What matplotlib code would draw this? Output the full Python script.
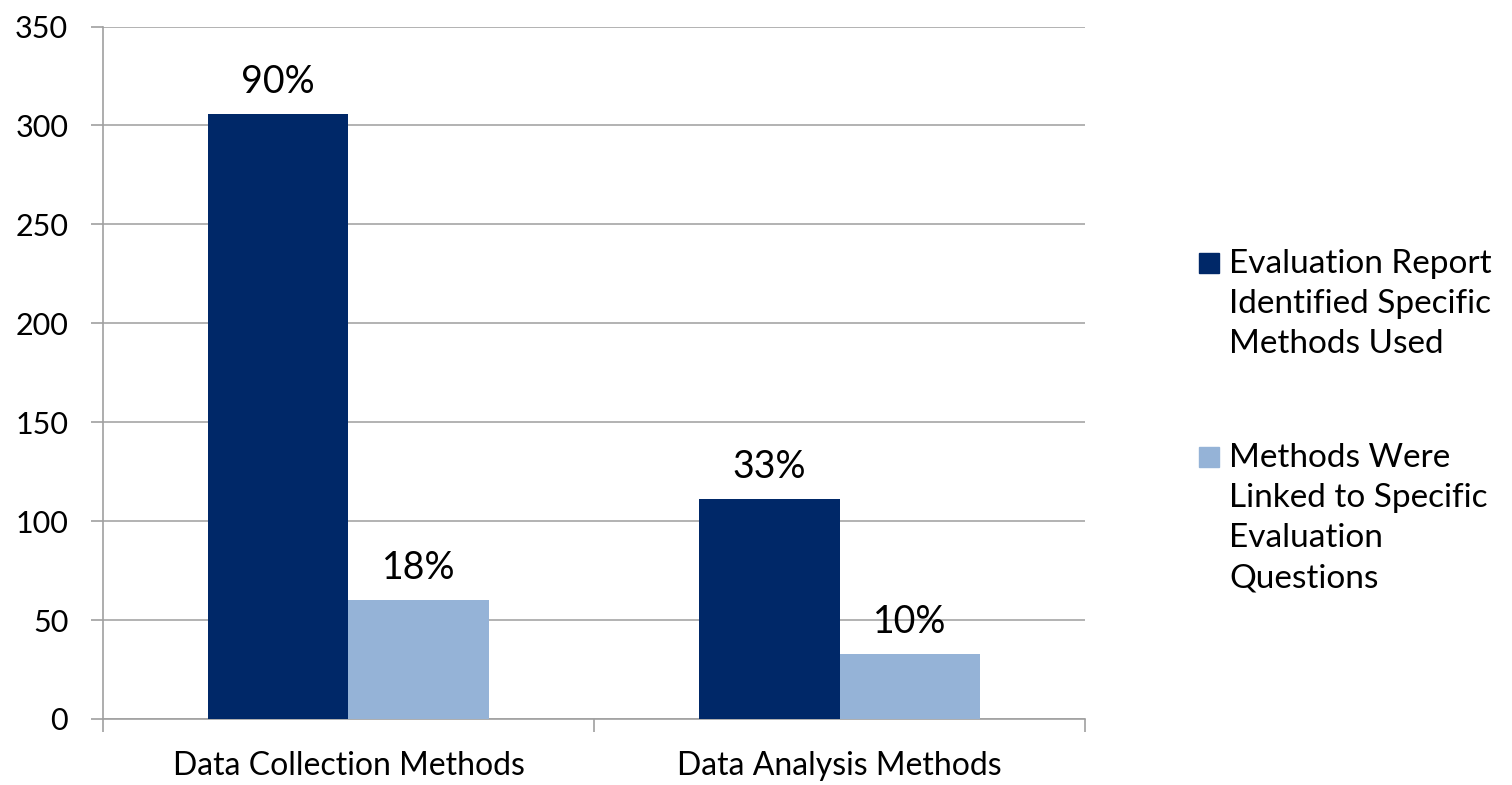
import matplotlib.pyplot as plt
import numpy as np
from matplotlib.patches import Rectangle

plt.rcParams['font.family'] = ['Lato', 'DejaVu Sans']

categories = ['Data Collection Methods', 'Data Analysis Methods']
series_names = ['Evaluation Report\nIdentified Specific\nMethods Used',
                'Methods Were\nLinked to Specific\nEvaluation\nQuestions']
identified = [306, 111]
linked = [60, 33]
pct_identified = ['90%', '33%']
pct_linked = ['18%', '10%']
colors = ['#002868', '#95b3d7']

fig = plt.figure(figsize=(15.12, 7.85), dpi=100)
ax = fig.add_axes([0.0681, 0.0841, 0.6495, 0.8821])

x = np.arange(len(categories))
w = 0.286
b1 = ax.bar(x - w / 2, identified, w, color=colors[0], zorder=3)
b2 = ax.bar(x + w / 2, linked, w, color=colors[1], zorder=3)

for bars, labs in [(b1, pct_identified), (b2, pct_linked)]:
    for r, lab in zip(bars, labs):
        ax.annotate(lab, (r.get_x() + r.get_width() / 2, r.get_height()),
                    xytext=(0, 10), textcoords='offset points',
                    ha='center', va='bottom', fontsize=27)

ax.set_xlim(-0.5, 1.5)
ax.set_ylim(0, 350)
ax.set_yticks(range(0, 351, 50))
ax.set_xticks(x)
ax.set_xticklabels(categories)
ax.set_xticks([-0.5, 0.5, 1.5], minor=True)
ax.tick_params(axis='x', which='major', length=0, pad=23, labelsize=23)
ax.tick_params(axis='x', which='minor', length=9, width=1.2, color='#a0a0a0')
ax.tick_params(axis='y', length=9, width=1.2, color='#a0a0a0', pad=16, labelsize=22)
ax.grid(axis='y', color='#a6a6a6', linewidth=1.2, zorder=0)
for s in ['top', 'right']:
    ax.spines[s].set_visible(False)
for s in ['left', 'bottom']:
    ax.spines[s].set_color('#a0a0a0')
    ax.spines[s].set_linewidth(1.2)

# legend drawn by hand so the square sits beside the first line
leg_y = [0.6522, 0.4051]
step = 0.051
for name, c, yy in zip(series_names, colors, leg_y):
    fig.patches.append(Rectangle((0.793, yy), 0.0135, 0.0250,
                                 transform=fig.transFigure, color=c))
    for i, line in enumerate(name.split('\n')):
        fig.text(0.8128, yy - i * step, line, fontsize=24,
                 va='baseline', ha='left')

fig.savefig('out.png', dpi=100)
